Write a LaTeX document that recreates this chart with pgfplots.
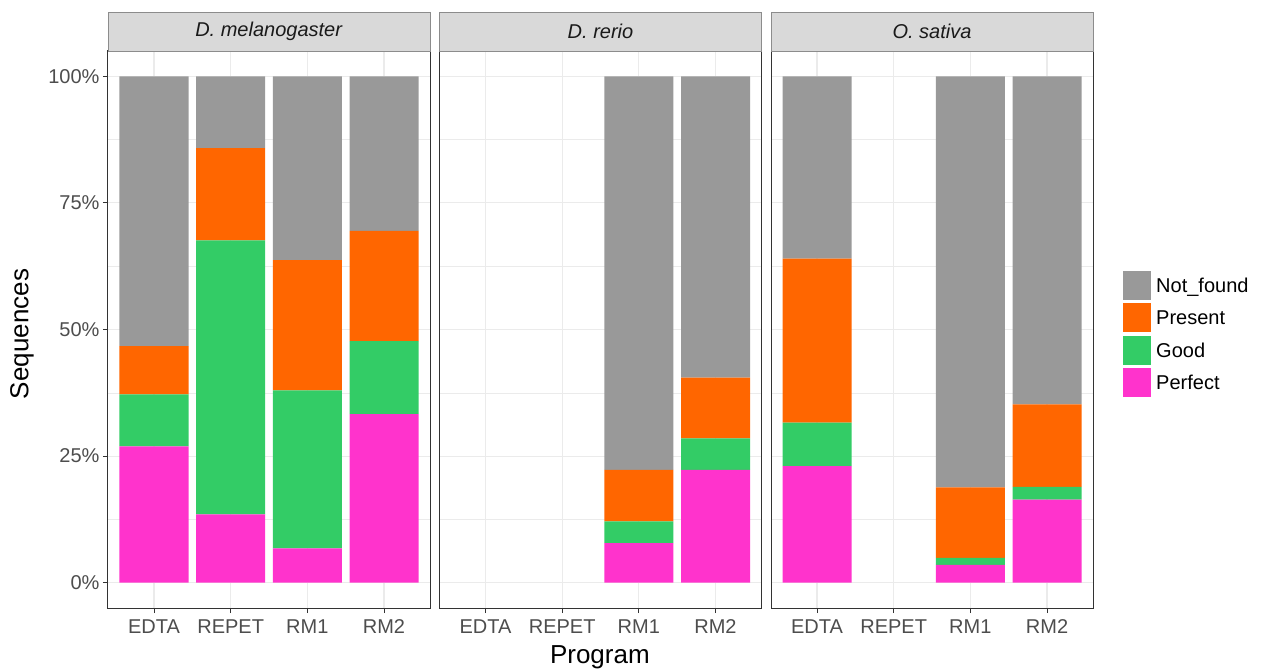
\documentclass[border=0pt]{standalone}
\usepackage{pgfplots}
\pgfplotsset{compat=1.18}
\usepackage{pgfplotstable}
\usepackage{fontspec}
\setmainfont{Liberation Sans}
\definecolor{cNF}{HTML}{999999}
\definecolor{cPr}{HTML}{FF6600}
\definecolor{cGo}{HTML}{33CC66}
\definecolor{cPe}{HTML}{FF33CC}
\definecolor{stripfill}{HTML}{D9D9D9}
\definecolor{stripline}{HTML}{8C8C8C}
\definecolor{gray20}{HTML}{333333}
\definecolor{gray30}{HTML}{4D4D4D}
\definecolor{gray10}{HTML}{1A1A1A}
\definecolor{gray92}{HTML}{EBEBEB}

\pgfplotstableread{
x perfect good present notfound
1 26.9 10.3 9.5 53.3
2 13.5 54.1 18.2 14.2
3 6.8 31.2 25.7 36.3
4 33.3 14.4 21.8 30.5
}\dmel
\pgfplotstableread{
x perfect good present notfound
1 0 0 0 0
2 0 0 0 0
3 7.8 4.3 10.2 77.7
4 22.3 6.2 12.0 59.5
}\drer
\pgfplotstableread{
x perfect good present notfound
1 23.0 8.6 32.4 36.0
2 0 0 0 0
3 3.5 1.4 13.9 81.2
4 16.4 2.5 16.3 64.8
}\osat

\pgfplotsset{
  panel/.style={
    scale only axis, width=322pt, height=557pt,
    anchor=south west,
    xmin=0.4, xmax=4.6, ymin=-5, ymax=105,
    ybar stacked, bar width=0.9,
    xtick={1,2,3,4}, xticklabels={EDTA,REPET,RM1,RM2},
    ytick={0,25,50,75,100},
    minor ytick={12.5,37.5,62.5,87.5},
    xtick pos=bottom, ytick pos=left,
    grid=both,
    major grid style={gray92, line width=1.1pt},
    minor grid style={gray92, line width=0.55pt},
    tick align=outside, major tick length=5pt, minor tick length=0pt,
    tick style={gray20, line width=1pt},
    axis line style={gray20, line width=1pt},
    every tick label/.append style={font=\fontsize{20}{24}\selectfont, text=gray30},
    xticklabel style={anchor=base, yshift=-20pt},
    /pgf/number format/assume math mode=true,
  },
}

\newcommand{\stackbars}[1]{%
  \addplot[fill=cPe, draw=none] table[x=x, y=perfect] {#1};
  \addplot[fill=cGo, draw=none] table[x=x, y=good] {#1};
  \addplot[fill=cPr, draw=none] table[x=x, y=present] {#1};
  \addplot[fill=cNF, draw=none] table[x=x, y=notfound] {#1};
}
\newcommand{\striplabel}[2]{%
  \draw[fill=stripfill, draw=stripline, line width=0.9pt] (#1.north west) rectangle ([yshift=39pt]#1.north east);
  \node[font=\fontsize{20}{24}\selectfont, text=gray10] at ([yshift=19.5pt]#1.north) {\textit{#2}};
}

\begin{document}
\begin{tikzpicture}
\useasboundingbox (0pt,0pt) rectangle (1265pt,670pt);
% panel 1
\begin{axis}[panel, name=p1, at={(108pt,62pt)},
  yticklabels={0\%,25\%,50\%,75\%,100\%},
  ylabel={Sequences},
  ylabel style={at={(rel axis cs:0,0.492)}, anchor=center, yshift=86pt, font=\fontsize{26}{30}\selectfont, text=black},
]
\stackbars{\dmel}
\end{axis}
% panel 2
\begin{axis}[panel, name=p2, at={(439.5pt,62pt)},
  yticklabels={}, y tick style={draw=none},
  xlabel={Program},
  xlabel style={at={(rel axis cs:0.498,0)}, anchor=base, yshift=-55pt, font=\fontsize{26}{30}\selectfont, text=black},
]
\stackbars{\drer}
\end{axis}
% panel 3
\begin{axis}[panel, name=p3, at={(771pt,62pt)},
  yticklabels={}, y tick style={draw=none},
  reverse legend,
  legend image code/.code={\fill[#1] (0pt,-7.3pt) rectangle (28pt,21.7pt);},
  legend style={at={(1,0.492)}, anchor=west, xshift=30pt, draw=none, fill=none,
    inner sep=0pt, row sep=3.5pt, /tikz/column sep=3pt, font=\fontsize{20}{24}\selectfont,
    cells={anchor=base west, inner ysep=0pt}},
]
\stackbars{\osat}
\legend{Perfect,Good,Present,Not\_found}
\end{axis}
\striplabel{p1}{D. melanogaster}
\striplabel{p2}{D. rerio}
\striplabel{p3}{O. sativa}
\end{tikzpicture}
\end{document}
